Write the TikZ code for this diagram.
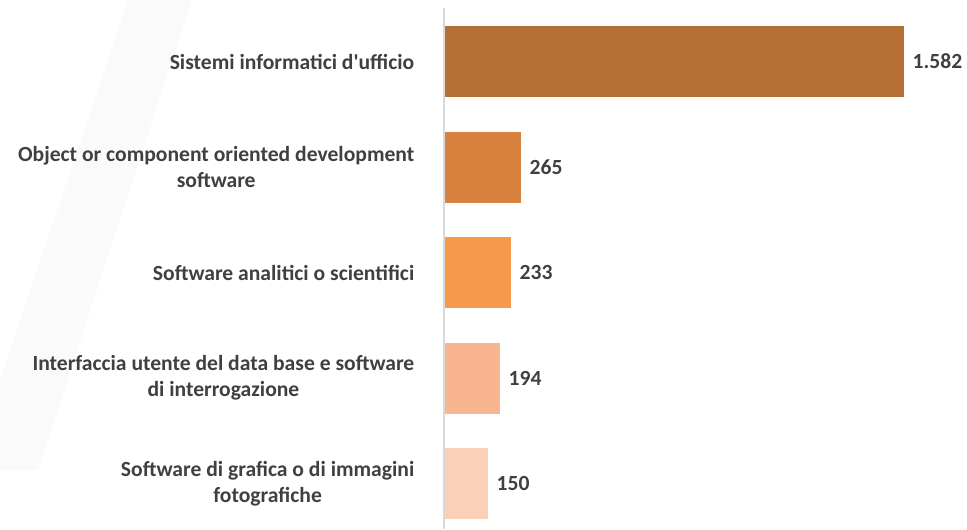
\documentclass[tikz,border=0pt]{standalone}
\usepackage{fontspec}
\setmainfont{Carlito}
\definecolor{barA}{HTML}{B77034}
\definecolor{barB}{HTML}{D9823F}
\definecolor{barC}{HTML}{F59A4B}
\definecolor{barD}{HTML}{F8B590}
\definecolor{barE}{HTML}{FBD0B9}
\definecolor{txtgray}{HTML}{404040}
\definecolor{axisgray}{HTML}{D9D9D9}
\begin{document}
\begin{tikzpicture}[x=0.75pt,y=-0.75pt,font=\bfseries\fontsize{16.2}{19.5}\selectfont,text=txtgray]
\def \xaxis{444}
\def \barh{35.5}
\useasboundingbox (0,0) rectangle (967,529);
% faint watermark stripe
\fill[black!2] (128,0) -- (192,0) -- (38,470) -- (0,470) -- (0,380) -- cycle;
\draw[axisgray,line width=1.5] (\xaxis,8) -- (\xaxis,529);
\foreach \y/\xe/\c/\v/\n in {61.5/904/barA/1.582/a,167/521/barB/265/b,272.5/511/barC/233/c,378/500/barD/194/d,483.5/488/barE/150/e}{
  \fill[\c] (\xaxis+1,\y-\barh) rectangle (\xe,\y+\barh);
  \node[anchor=west] (v\n) at (\xe+4,\y) {\v};
}
\foreach \y/\l/\n in {61.5/{Sistemi informatici d\textquotesingle ufficio}/a,167/{Object or component oriented development\\software}/b,272.5/{Software analitici o scientifici}/c,378/{Interfaccia utente del data base e software\\di interrogazione}/d,483.5/{Software di grafica o di immagini\\fotografiche}/e}{
  \node[anchor=east,align=center] (c\n) at (419,\y) {\l};
}
\end{tikzpicture}
\end{document}
